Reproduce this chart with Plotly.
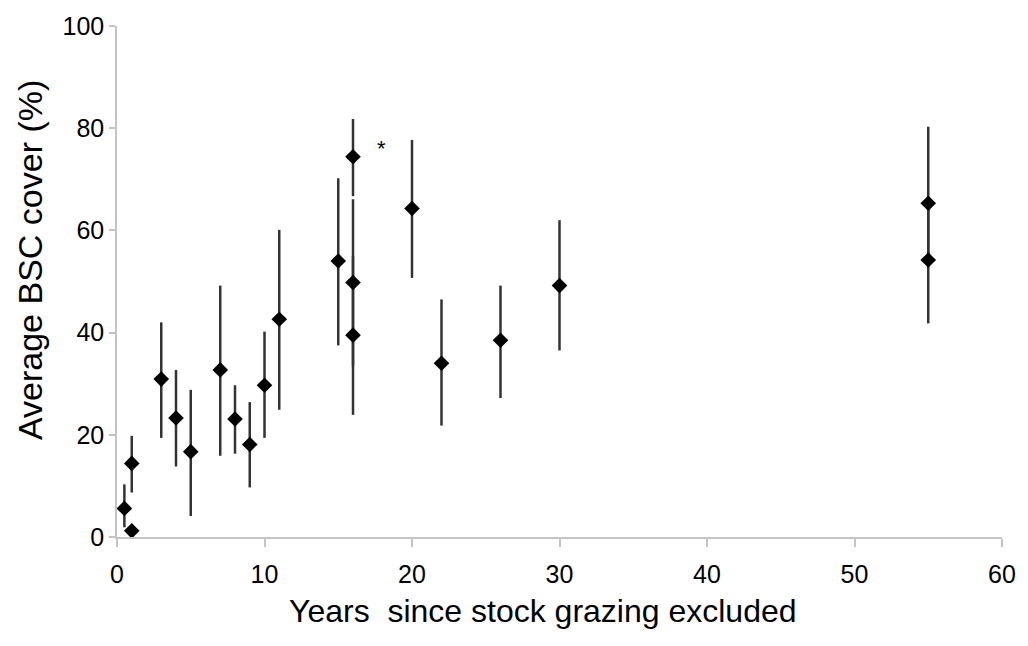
import plotly.graph_objects as go

years = [0.5, 1, 1, 3, 4, 5, 7, 8, 9, 10, 11, 15, 16, 16, 16, 20, 22, 26, 30, 55, 55]
cover = [5.6, 1.2, 14.4, 30.9, 23.3, 16.7, 32.7, 23.1, 18.1, 29.7, 42.6, 54.0, 74.4, 49.8, 39.5, 64.3, 34.0, 38.5, 49.2, 65.3, 54.2]
upper = [10.3, 1.2, 19.8, 42.0, 32.7, 28.8, 49.2, 29.7, 26.4, 40.2, 60.1, 70.2, 81.8, 66.1, 55.0, 77.7, 46.5, 49.2, 62.0, 80.3, 65.3]
lower = [1.9, 1.2, 8.7, 19.4, 13.8, 4.1, 15.9, 16.3, 9.7, 19.4, 24.9, 37.5, 66.7, 33.5, 23.9, 50.7, 21.8, 27.2, 36.5, 54.2, 41.8]

err_plus = [u - c for u, c in zip(upper, cover)]
err_minus = [c - l for c, l in zip(cover, lower)]

x_ticks = [0, 10, 20, 30, 40, 50, 60]
y_ticks = [0, 20, 40, 60, 80, 100]

star_x, star_y = 17.9, 76

FONT = "Liberation Sans, Arial, sans-serif"

fig = go.Figure()
fig.add_trace(go.Scatter(
    x=years, y=cover, mode="markers",
    marker=dict(symbol="diamond", size=12, color="black"),
    error_y=dict(type="data", symmetric=False, array=err_plus, arrayminus=err_minus,
                 color="#333333", thickness=2.5, width=0),
    cliponaxis=False, showlegend=False,
))

fig.add_annotation(x=star_x, y=star_y, text="*", showarrow=False,
                   font=dict(family=FONT, size=22, color="black"))

fig.add_annotation(xref="paper", yref="paper", x=(543 - 117) / (1003 - 117),
                   y=(537 - 612) / (537 - 22.5),
                   text="Years\u00a0 since stock grazing excluded", showarrow=False,
                   xanchor="center", yanchor="middle",
                   font=dict(family=FONT, size=32, color="black"))
fig.add_annotation(xref="paper", yref="paper", x=(30 - 117) / (1003 - 117),
                   y=(537 - 258) / (537 - 22.5),
                   text="Average BSC cover (%)", showarrow=False, textangle=-90,
                   xanchor="center", yanchor="middle",
                   font=dict(family=FONT, size=34, color="black"))

fig.update_layout(
    width=1028, height=646,
    margin=dict(l=117, r=25, t=22, b=109),
    paper_bgcolor="white", plot_bgcolor="white",
    font=dict(family=FONT, size=25, color="black"),
    xaxis=dict(range=[0, 60], tickvals=x_ticks, showgrid=False, zeroline=False,
               showline=True, linecolor="#c4c4c4", linewidth=1.5,
               ticks="outside", ticklen=8, tickcolor="#c4c4c4", tickwidth=1.5,
               ticklabelstandoff=6,
               tickfont=dict(family=FONT, size=25, color="black")),
    yaxis=dict(range=[0, 100], tickvals=y_ticks, showgrid=False, zeroline=False,
               showline=True, linecolor="#c4c4c4", linewidth=1.5,
               ticks="outside", ticklen=6, tickcolor="#c4c4c4", tickwidth=1.5,
               tickfont=dict(family=FONT, size=25, color="black")),
)

fig.write_html("out.html", config={"displayModeBar": False},
               post_script="document.body.style.margin='0';")
